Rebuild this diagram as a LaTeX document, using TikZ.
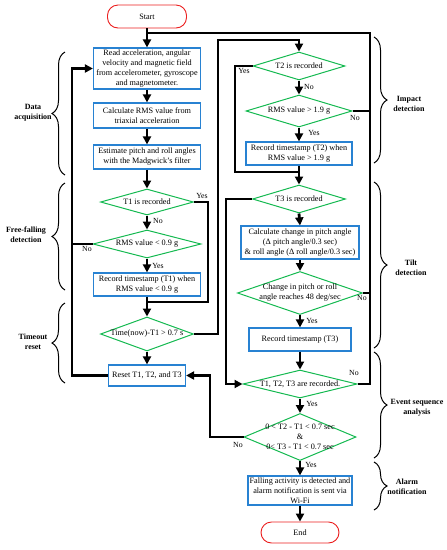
\documentclass[tikz,border=0pt]{standalone}
\usepackage{fontspec}
\setmainfont{Liberation Serif}
\usetikzlibrary{shapes.geometric,arrows.meta,decorations.pathreplacing}
\definecolor{bxblue}{RGB}{40,130,210}
\definecolor{dgreen}{RGB}{20,185,80}
\definecolor{tred}{RGB}{235,30,30}
\begin{document}
\begin{tikzpicture}[x=1pt,y=-1pt,
  every node/.style={font=\fontsize{8.2}{10}\selectfont, inner sep=0pt, align=center},
  bx/.style={draw=bxblue, line width=1.2pt, rectangle, minimum width=107pt},
  dia/.style={draw=dgreen, line width=1pt, diamond},
  term/.style={draw=tred, line width=0.9pt, rounded corners=10.5pt, rectangle},
  conn/.style={line width=2.8pt},
  arr/.style={conn, -{Triangle[length=8pt,width=8pt]}},
  lbl/.style={font=\fontsize{7.8}{9.5}\selectfont},
  grp/.style={font=\bfseries\fontsize{8}{9.8}\selectfont},
  brc/.style={decorate, decoration={brace, amplitude=13pt}, line width=1pt}
]
\useasboundingbox (0,0) rectangle (447,550);

% left column
\node[term, minimum width=79pt, minimum height=23pt] (start) at (147,16.5) {Start};
\node[bx, minimum height=41pt] (read) at (147,68.5) {Read acceleration, angular\\velocity and magnetic field\\from accelerometer, gyroscope\\and magnetometer.};
\node[bx, minimum height=25pt] (rms) at (147,115.5) {Calculate RMS value from\\triaxial acceleration};
\node[bx, minimum height=24pt] (est) at (147,157) {Estimate pitch and roll angles\\with the Madgwick's filter};
\node[dia, minimum width=93pt, minimum height=26pt] (t1) at (147,202) {};
\node (t1t) at (t1) {T1 is recorded};
\node[dia, minimum width=108pt, minimum height=28pt] (r09) at (147,244) {};
\node (r09t) at (r09) {RMS value < 0.9 g};
\node[bx, minimum height=23pt] (rec1) at (147,284.5) {Record timestamp (T1) when\\RMS value < 0.9 g};
\node[dia, minimum width=93pt, minimum height=34pt] (tim) at (147,334) {};
\node (timt) at (tim) {Time(now)-T1 > 0.7 s};
\node[bx, minimum width=77pt, minimum height=21pt] (reset) at (147,375.5) {Reset T1, T2, and T3};

% right column
\node[dia, minimum width=92pt, minimum height=28pt] (t2) at (299,66) {};
\node (t2t) at (t2) {T2 is recorded};
\node[dia, minimum width=106pt, minimum height=32pt] (r19) at (299,111) {};
\node (r19t) at (r19) {RMS value > 1.9 g};
\node[bx, minimum width=106pt, minimum height=23pt] (rec2) at (299,153.5) {Record timestamp (T2) when\\RMS value > 1.9 g};
\node[dia, minimum width=93pt, minimum height=28pt] (t3) at (299,199) {};
\node (t3t) at (t3) {T3 is recorded};
\node[bx, minimum width=118pt, minimum height=33pt] (chc) at (300,242.5) {Calculate change in pitch angle\\(Δ pitch angle/0.3 sec)\\\& roll angle (Δ roll angle/0.3 sec)};
\node[dia, minimum width=125pt, minimum height=43pt] (chg) at (300,293) {};
\node (chgt) at (chg) {Change in pitch or roll\\angle reaches 48 deg/sec};
\node[bx, minimum width=102pt, minimum height=23pt] (rec3) at (300,339.5) {Record timestamp (T3)};
\node[dia, minimum width=114pt, minimum height=28pt] (t123) at (300,384) {};
\node (t123t) at (t123) {T1, T2, T3 are recorded.};
\node[dia, minimum width=112pt, minimum height=47pt] (fin) at (300,437) {};
\node (fint) at (fin) {0 < T2 - T1 < 0.7 sec\\\&\\0< T3 - T1 < 0.7 sec};
\node[bx, minimum width=104pt, minimum height=29pt] (fall) at (300,490.5) {Falling activity is detected and\\alarm notification is sent via\\Wi-Fi};
\node[term, minimum width=78pt, minimum height=21pt] (end) at (300,532.5) {End};

% helper coordinates
\coordinate (jS) at (147,33);
\coordinate (cR) at (370,33);
\coordinate (cT) at (218,40);
\coordinate (cY1) at (208,302);
\coordinate (cL) at (72,375);
\coordinate (cY2) at (235,172);
\coordinate (cY3) at (226,384);
\coordinate (cN) at (210,436);

% connectors
\draw[arr] (start.south) -- (read.north);
\draw[arr] (read.south) -- (rms.north);
\draw[arr] (rms.south) -- (est.north);
\draw[arr] (est.south) -- (t1.north);
\draw[arr] (t1.south) -- (r09.north);
\draw[arr] (r09.south) -- (rec1.north);
\draw[arr] (rec1.south) -- (tim.north);
\draw[conn] (t1.east) -| (cY1) -- (cY1 -| rec1.south);
\draw[arr] (tim.south) -- (reset.north);
\draw[arr] (tim.east) -| (cT) -| (t2.north);
\draw[arr] (reset.west) -| (cL) |- (read.west);
\draw[conn] (r09.west) -- (r09.west -| cL);
\draw[arr] (t2.south) -- (r19.north);
\draw[arr] (r19.south) -- (rec2.north);
\draw[arr] (rec2.south) -- (t3.north);
\draw[conn] (t2.west) -| (cY2) -- (cY2 -| t2.south);
\draw[conn] (r19.east) -- (r19.east -| cR);
\draw[arr] (t3.south) -- (chc.north);
\draw[arr] (chc.south) -- (chg.north);
\draw[arr] (chg.south) -- (rec3.north);
\draw[arr] (rec3.south) -- (t123.north);
\draw[arr] (t3.west) -| (cY3) -- (t123.west);
\draw[conn] (chg.east) -- (chg.east -| cR);
\draw[conn] (t123.east) -| (cR) -- (jS);
\draw[arr] (t123.south) -- (fin.north);
\draw[arr] (fin.west) -| (cN) |- (reset.east);
\draw[arr] (fin.south) -- (fall.north);
\draw[arr] (fall.south) -- (end.north);

% yes/no labels
\node[lbl] (l1) at (202,196) {Yes};
\node[lbl] (l2) at (158,221) {No};
\node[lbl] (l3) at (87,249) {No};
\node[lbl] (l4) at (158,266) {Yes};
\node[lbl] (l5) at (244,71) {Yes};
\node[lbl] (l6) at (309,87) {No};
\node[lbl] (l7) at (355,118) {No};
\node[lbl] (l8) at (314,133) {Yes};
\node[lbl] (l9) at (362,298) {No};
\node[lbl] (l10) at (312,321) {Yes};
\node[lbl] (l11) at (354,373) {No};
\node[lbl] (l12) at (312,404) {Yes};
\node[lbl] (l13) at (238,445) {No};
\node[lbl] (l14) at (311,465) {Yes};

% braces
\draw[brc] (65,175) -- (65,52);
\draw[brc] (65,290) -- (65,183);
\draw[brc] (65,383) -- (65,303);
\draw[brc] (374,37) -- (374,163);
\draw[brc] (374,182) -- (374,348);
\draw[brc] (374,352) -- (374,458);
\draw[brc] (374,462) -- (374,510);

% group labels
\node[grp] (gda) at (33,113) {Data\\acquisition};
\node[grp] (gff) at (26,235) {Free-falling\\detection};
\node[grp] (gtr) at (33,342) {Timeout\\reset};
\node[grp] (gim) at (409,104) {Impact\\detection};
\node[grp] (gti) at (411,268) {Tilt\\detection};
\node[grp] (gev) at (417,408) {Event sequence\\analysis};
\node[grp] (gal) at (407,487) {Alarm\\notification};
\end{tikzpicture}
\end{document}
